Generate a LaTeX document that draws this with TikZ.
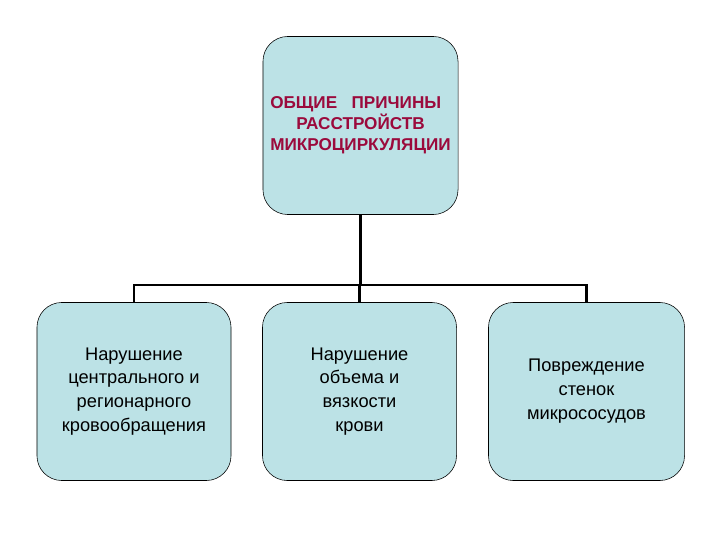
\documentclass[tikz,border=0pt]{standalone}
\usepackage{fontspec}
\setmainfont{Liberation Sans}
\usepackage{xcolor}
\definecolor{Pale}{HTML}{BCE2E6}
\definecolor{Crimson}{HTML}{9B0A3C}
\definecolor{Ink}{HTML}{000000}

\begin{document}
\begin{tikzpicture}[x=0.025cm,y=0.025cm,
  box/.style={draw=Ink, fill=Pale, rounded corners=0.62cm, minimum width=4.85cm, minimum height=4.45cm, align=center, inner sep=2pt},
  cause/.style={box, font=\fontsize{13}{17}\selectfont, text=Ink},
  link/.style={Ink, line width=1.7pt}]
\useasboundingbox[fill=white] (0,0) rectangle (720,540);
\node[box, minimum width=4.875cm, text=Crimson, font=\bfseries\fontsize{12.2}{14.8}\selectfont] (top) at (360.5,414.5){ОБЩИЕ\ \ \ ПРИЧИНЫ\ \ \ \\РАССТРОЙСТВ\\МИКРОЦИРКУЛЯЦИИ};
\node[cause] (left) at (134,148.5){Нарушение\\центрального и\\регионарного\\кровообращения};
\node[cause] (mid) at (359.5,148.5){Нарушение\\объема и\\вязкости\\крови};
\node[cause, minimum width=4.9cm] (right) at (586.5,148.5){Повреждение\\стенок\\микрососудов};
\coordinate (bus) at (360,255);
\draw[link] (top.south) -- (top.south |- bus);
\draw[link] (left.north) -- (left.north |- bus) -- (right.north |- bus) -- (right.north);
\draw[link] (mid.north) -- (mid.north |- bus);
\end{tikzpicture}
\end{document}
